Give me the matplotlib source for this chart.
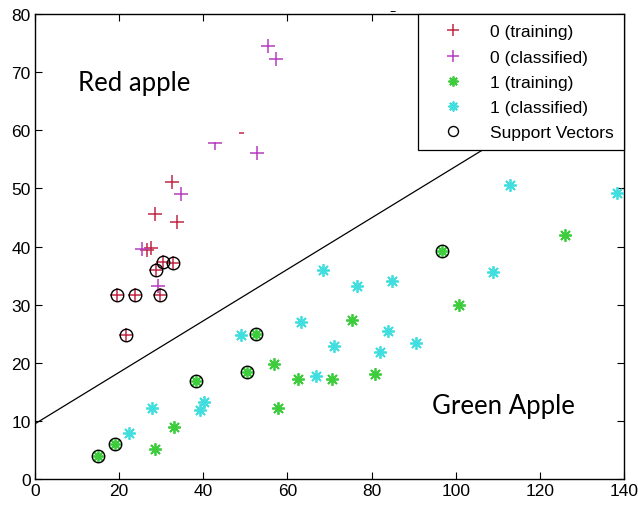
import numpy as np
import matplotlib.pyplot as plt
from matplotlib.patches import Rectangle

# class 0 (red apple) training points
red_train_x = [32.5, 28.5, 33.7, 27.5, 26.5, 47.9]
red_train_y = [51.2, 45.6, 44.2, 39.7, 39.4, 59.5]
# class 0 classified points
mag_x = [55.5, 57.3, 52.8, 34.7, 42.8, 25.5, 29.2]
mag_y = [74.6, 72.2, 56.1, 49.1, 57.8, 39.5, 33.3]
# class 1 (green apple) training points
grn_train_x = [28.6, 33.1, 56.7, 62.4, 70.7, 57.8, 75.3, 80.7, 126.1, 100.8]
grn_train_y = [5.2, 8.9, 19.8, 17.2, 17.2, 12.3, 27.4, 18.0, 42.0, 29.9]
# class 1 classified points
cyan_x = [22.4, 27.7, 39.2, 40.2, 49.0, 63.2, 68.4, 76.5, 84.8, 84.0, 82.0,
          71.1, 66.8, 90.6, 112.9, 138.3, 108.8]
cyan_y = [7.9, 12.2, 11.8, 13.2, 24.8, 27.0, 36.0, 33.2, 34.0, 25.5, 21.9,
          22.9, 17.8, 23.4, 50.6, 49.2, 35.6]
# support vectors: red ones then green ones
sv_red_x = [30.5, 32.7, 28.7, 19.6, 23.8, 29.6, 21.6]
sv_red_y = [37.4, 37.2, 36.0, 31.7, 31.7, 31.7, 24.8]
sv_grn_x = [15.0, 19.0, 38.3, 52.5, 50.3, 96.8]
sv_grn_y = [4.0, 6.0, 16.8, 24.9, 18.4, 39.3]
# separating line y = a + b*x
line_a, line_b = 9.5, 0.443

red = '#c02845'
mag = '#b83cc0'
grn = '#3ccc3c'
cyn = '#40dede'
star = (8, 2, 0)  # matlab style asterisk

fig = plt.figure(figsize=(6.38, 5.06), dpi=100)
ax = fig.add_axes([0.0549, 0.0514, 0.9231, 0.9186])

xl = np.linspace(0, 140, 50)
ax.plot(xl, line_a + line_b * xl, color='black', lw=0.9, zorder=1)

ax.plot(red_train_x + sv_red_x, red_train_y + sv_red_y, '+', color=red, ms=10, mew=1.1,
        ls='none', label='0 (training)', zorder=3)
ax.plot(mag_x, mag_y, '+', color=mag, ms=10, mew=1.1, ls='none', label='0 (classified)', zorder=3)
ax.plot(grn_train_x + sv_grn_x, grn_train_y + sv_grn_y, marker=star, color=grn, ms=9, mew=1.3,
        ls='none', label='1 (training)', zorder=3)
ax.plot(cyan_x, cyan_y, marker=star, color=cyn, ms=9, mew=1.3, ls='none',
        label='1 (classified)', zorder=3)
ax.plot(sv_red_x + sv_grn_x, sv_red_y + sv_grn_y, 'o', mfc='none', mec='black', ms=9, mew=1.0,
        ls='none', label='Support Vectors', zorder=4)

# white box pasted over part of the plot with the label
ax.add_patch(Rectangle((6, 58.0), 42.6, 15, facecolor='white', edgecolor='none', zorder=5))
ax.text(10.2, 68.3, 'Red apple', fontsize=18.5, family='Lato', va='center', zorder=6)
ax.text(94.3, 12.6, 'Green Apple', fontsize=18.5, family='Lato', va='center', zorder=6)

ax.set_xlim(0, 140)
ax.set_ylim(0, 80)
ax.set_xticks(range(0, 141, 20))
ax.set_yticks(range(0, 81, 10))
ax.tick_params(direction='in', top=True, right=True, length=5, labelsize=12.5, pad=3)
for lab in ax.get_xticklabels() + ax.get_yticklabels():
    lab.set_family('Liberation Sans')
for s in ax.spines.values():
    s.set_linewidth(1.0)

leg = ax.legend(loc='upper right', prop={'family': 'Liberation Sans', 'size': 12.5},
                frameon=True, fancybox=False, edgecolor='black', framealpha=1,
                borderaxespad=0, handlelength=2.9, handletextpad=0.7, labelspacing=0.58,
                borderpad=0.58, markerscale=0.8)
leg.get_frame().set_linewidth(0.9)
leg.set_zorder(10)

fig.text(0.615, 0.978, '–', fontsize=9, ha='center', va='center')

fig.savefig('out.png', dpi=100)
